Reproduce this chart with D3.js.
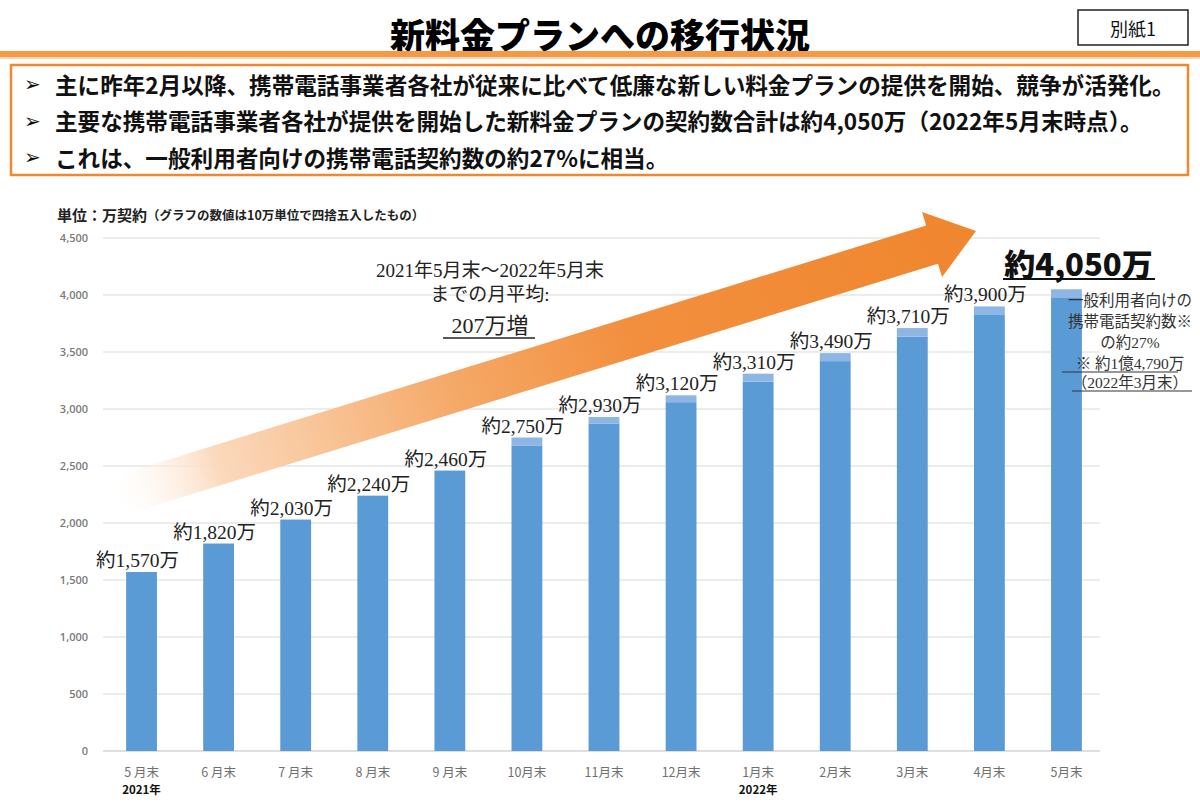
<!DOCTYPE html>
<html><head><meta charset="utf-8">
<script src="https://cdn.jsdelivr.net/npm/d3@7"></script>
<style>
html,body{margin:0;padding:0;background:#fff;}
svg{display:block;}
</style></head>
<body>
<svg id="c" width="1200" height="810"></svg>
<script>
// ---- data ----
const categories = ["5 月末","6 月末","7 月末","8 月末","9 月末","10月末","11月末","12月末","1月末","2月末","3月末","4月末","5月末"];
const totals     = [1570, 1820, 2030, 2240, 2460, 2750, 2930, 3120, 3310, 3490, 3710, 3900, 4050];
const topPart    = [0, 0, 0, 0, 0, 70, 60, 60, 70, 70, 75, 70, 70];
const valueLabels = ["約1,570万","約1,820万","約2,030万","約2,240万","約2,460万","約2,750万","約2,930万","約3,120万","約3,310万","約3,490万","約3,710万","約3,900万","約4,050万"];
const yTicks = [0, 500, 1000, 1500, 2000, 2500, 3000, 3500, 4000, 4500];
const yearLabels = [{cat: "5 月末", text: "2021年"}, {cat: "1月末", text: "2022年"}];
const bullets = [
  "主に昨年2月以降、携帯電話事業者各社が従来に比べて低廉な新しい料金プランの提供を開始、競争が活発化。",
  "主要な携帯電話事業者各社が提供を開始した新料金プランの契約数合計は約4,050万（2022年5月末時点）。",
  "これは、一般利用者向けの携帯電話契約数の約27%に相当。"
];
const noteLines = ["一般利用者向けの","携帯電話契約数※","の約27%","※ 約1億4,790万","（2022年3月末）"];
const avgLines = ["2021年5月末～2022年5月末","までの月平均:","207万増"];

const SANS = "'Noto Sans CJK JP','Noto Sans',sans-serif";
const SERIF = "'Liberation Serif','DejaVu Serif','Noto Sans CJK JP',serif";

const svg = d3.select("#c");

// ---- header ----
svg.append("text").attr("x", 600).attr("y", 33).attr("text-anchor", "middle")
  .attr("dominant-baseline", "central").attr("font-family", SANS).attr("font-weight", 900)
  .attr("font-size", 35).attr("fill", "#000").text("新料金プランへの移行状況");
svg.append("rect").attr("x", 1078).attr("y", 10).attr("width", 110).attr("height", 35)
  .attr("fill", "#fff").attr("stroke", "#222").attr("stroke-width", 1.5);
svg.append("text").attr("x", 1133).attr("y", 28).attr("text-anchor", "middle")
  .attr("dominant-baseline", "central").attr("font-family", SANS).attr("font-size", 18)
  .attr("fill", "#111").text("別紙1");
svg.append("rect").attr("x", 0).attr("y", 51).attr("width", 1200).attr("height", 6).attr("fill", "#f39a46");
svg.append("rect").attr("x", 0).attr("y", 57).attr("width", 1200).attr("height", 2).attr("fill", "#fbd3ad");

// ---- bullet box ----
svg.append("rect").attr("x", 11).attr("y", 65).attr("width", 1177).attr("height", 110)
  .attr("fill", "#fff").attr("stroke", "#f0882e").attr("stroke-width", 2.5);
bullets.forEach((t, i) => {
  const yy = 84 + i * 36.5;
  svg.append("text").attr("x", 24).attr("y", yy).attr("dominant-baseline", "central")
    .attr("font-family", "'DejaVu Sans',sans-serif").attr("font-size", 20).attr("fill", "#111").text("➢");
  svg.append("text").attr("x", 55).attr("y", yy).attr("dominant-baseline", "central")
    .attr("font-family", SANS).attr("font-weight", 700).attr("font-size", 22.6).attr("fill", "#111").text(t);
});

// ---- chart scales ----
const x = d3.scaleBand().domain(categories).range([103, 1105]).paddingInner(0.6).paddingOuter(0.3);
const y = d3.scaleLinear().domain([0, 4500]).range([751, 238]);

// unit label
const unit = svg.append("text").attr("x", 57).attr("y", 214).attr("dominant-baseline", "central")
  .attr("font-family", SANS).attr("font-weight", 700).attr("fill", "#222");
unit.append("tspan").attr("font-size", 15).text("単位：万契約");
unit.append("tspan").attr("font-size", 12.5).text("（グラフの数値は10万単位で四捨五入したもの）");

// grid
svg.append("g").selectAll("line").data(yTicks.filter(d => d > 0)).join("line")
  .attr("x1", 103).attr("x2", 1100).attr("y1", d => y(d)).attr("y2", d => y(d))
  .attr("stroke", "#d9d9d9").attr("stroke-width", 1.2);

// y axis
const yAxis = svg.append("g").attr("transform", "translate(92,0)")
  .call(d3.axisLeft(y).tickValues(yTicks).tickSize(0).tickPadding(4).tickFormat(d3.format(",")));
yAxis.select(".domain").remove();
yAxis.selectAll("text").attr("font-family", "'Open Sans','Liberation Sans',sans-serif")
  .attr("font-size", 11).attr("font-weight", 600).attr("fill", "#7a7a7a");

// x axis
const xAxis = svg.append("g").attr("transform", `translate(0,${y(0)})`)
  .call(d3.axisBottom(x).tickSize(0).tickPadding(17));
xAxis.select(".domain").attr("stroke", "#bfbfbf").attr("stroke-width", 1.2)
  .attr("d", "M103,0H1100");
xAxis.selectAll("text").attr("font-family", SANS).attr("font-size", 12.5).attr("fill", "#6f6f6f");
svg.append("g").selectAll("text").data(yearLabels).join("text")
  .attr("x", d => x(d.cat) + x.bandwidth() / 2).attr("y", 789).attr("text-anchor", "middle")
  .attr("dominant-baseline", "central").attr("font-family", SANS).attr("font-weight", 700)
  .attr("font-size", 11.5).attr("fill", "#111").text(d => d.text);

// ---- arrow (drawn behind bars) ----
const defs = svg.append("defs");
const tail = [115, 497], tip = [976, 231];
const grad = defs.append("linearGradient").attr("id", "ag").attr("gradientUnits", "userSpaceOnUse")
  .attr("x1", tail[0]).attr("y1", tail[1]).attr("x2", tip[0]).attr("y2", tip[1]);
grad.append("stop").attr("offset", 0).attr("stop-color", "#ffffff").attr("stop-opacity", 0.2);
grad.append("stop").attr("offset", 0.12).attr("stop-color", "#fbd9bc");
grad.append("stop").attr("offset", 0.4).attr("stop-color", "#f5a866");
grad.append("stop").attr("offset", 0.6).attr("stop-color", "#f28f3e");
grad.append("stop").attr("offset", 1).attr("stop-color", "#f0862e");
(function () {
  const dx = tip[0] - tail[0], dy = tip[1] - tail[1], L = Math.hypot(dx, dy);
  const ux = dx / L, uy = dy / L, nx = -uy, ny = ux;
  const hw = 20, headW = 34, headL = 46;
  const bx = tip[0] - ux * headL, by = tip[1] - uy * headL;
  const pts = [
    [tail[0] + nx * hw, tail[1] + ny * hw],
    [bx + nx * hw, by + ny * hw],
    [bx + nx * headW, by + ny * headW],
    tip,
    [bx - nx * headW, by - ny * headW],
    [bx - nx * hw, by - ny * hw],
    [tail[0] - nx * hw, tail[1] - ny * hw]
  ];
  svg.append("path").attr("d", d3.line()(pts) + "Z").attr("fill", "url(#ag)");
})();

// ---- bars ----
const bars = svg.append("g");
bars.selectAll("rect.base").data(categories).join("rect").attr("class", "base")
  .attr("x", d => x(d)).attr("width", x.bandwidth())
  .attr("y", (d, i) => y(totals[i] - topPart[i]))
  .attr("height", (d, i) => y(0) - y(totals[i] - topPart[i]))
  .attr("fill", "#5b9bd5");
bars.selectAll("rect.top").data(categories).join("rect").attr("class", "top")
  .attr("x", d => x(d)).attr("width", x.bandwidth())
  .attr("y", (d, i) => y(totals[i]))
  .attr("height", (d, i) => y(totals[i] - topPart[i]) - y(totals[i]))
  .attr("fill", "#8db6e4");

// value labels (all except the last, which is the big one)
svg.append("g").selectAll("text").data(categories.slice(0, 12)).join("text")
  .attr("x", d => x(d) + x.bandwidth() / 2 - 4).attr("y", (d, i) => y(totals[i]) - 5)
  .attr("text-anchor", "middle").attr("font-family", SERIF).attr("font-size", 19.5)
  .attr("fill", "#222").text((d, i) => valueLabels[i]);

// big label for last
const lastCat = categories[12];
svg.append("text").attr("x", x(lastCat) + x.bandwidth() / 2 + 12).attr("y", 262)
  .attr("text-anchor", "middle").attr("dominant-baseline", "central")
  .attr("font-family", SANS).attr("font-weight", 900).attr("font-size", 31).attr("fill", "#111")
  .text(valueLabels[12]);
svg.append("line").attr("x1", 1003).attr("x2", 1155).attr("y1", 279).attr("y2", 279)
  .attr("stroke", "#111").attr("stroke-width", 2);

// right note
const noteY = [300, 321, 342, 363, 382];
noteLines.forEach((t, i) => {
  svg.append("text").attr("x", 1130).attr("y", noteY[i]).attr("text-anchor", "middle")
    .attr("dominant-baseline", "central").attr("font-family", SERIF).attr("font-size", 15.5)
    .attr("fill", "#333").text(t);
});
svg.append("line").attr("x1", 1062).attr("x2", 1178).attr("y1", 372).attr("y2", 372).attr("stroke", "#333").attr("stroke-width", 1.2);
svg.append("line").attr("x1", 1072).attr("x2", 1192).attr("y1", 391).attr("y2", 391).attr("stroke", "#333").attr("stroke-width", 1.2);

// average annotation
const avgY = [270, 294, 325];
avgLines.forEach((t, i) => {
  svg.append("text").attr("x", 490).attr("y", avgY[i]).attr("text-anchor", "middle")
    .attr("dominant-baseline", "central").attr("font-family", SERIF)
    .attr("font-size", i === 2 ? 22 : 19).attr("fill", "#222").text(t);
});
svg.append("line").attr("x1", 443).attr("x2", 535).attr("y1", 338).attr("y2", 338)
  .attr("stroke", "#222").attr("stroke-width", 1.3);
</script>
</body></html>
